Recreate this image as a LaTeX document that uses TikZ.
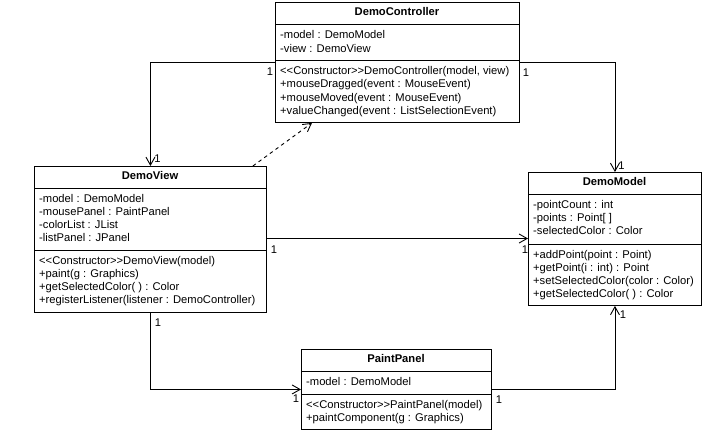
\documentclass[tikz,border=0pt]{standalone}
\usepackage{fontspec}
\setmainfont{Liberation Sans}
\usetikzlibrary{arrows.meta,calc}
\tikzset{
  cls/.style={draw=black, line width=0.9pt, rectangle, inner sep=0pt, anchor=north west},
  sep/.style={draw=black, line width=0.9pt},
  ttl/.style={font=\fontsize{11.2}{13}\selectfont\bfseries, inner sep=0pt, text height=8pt, text depth=2.5pt},
  txt/.style={font=\fontsize{11.2}{13}\selectfont, inner sep=0pt, anchor=west, text height=8pt, text depth=2.5pt},
  mult/.style={font=\fontsize{11.2}{13}\selectfont, inner sep=0pt},
  assoc/.style={draw=black, line width=0.9pt, -{Straight Barb[length=8pt,width=9pt,line width=0.9pt]}},
  dep/.style={assoc, dash pattern=on 3.5pt off 3.5pt}
}
\begin{document}
\begin{tikzpicture}[x=1pt,y=-1pt]
\useasboundingbox (0,0) rectangle (717,434);
% DemoController
\node[cls, minimum width=244pt, minimum height=120pt] (ctrl) at (275,2) {};
\draw[sep] (275,24) -- (519,24);
\draw[sep] (275,60) -- (519,60);
\node[ttl] (ctrlT) at (397,13) {DemoController};
\node[txt] (ctrlA1) at (280,36) {-model : DemoModel};
\node[txt] (ctrlA2) at (280,49.3) {-view : DemoView};
\node[txt] (ctrlM1) at (280,72) {<{}<Constructor>{}>DemoController(model, view)};
\node[txt] (ctrlM2) at (280,85.2) {+mouseDragged(event : MouseEvent)};
\node[txt] (ctrlM3) at (280,98.4) {+mouseMoved(event : MouseEvent)};
\node[txt] (ctrlM4) at (280,111.6) {+valueChanged(event : ListSelectionEvent)};
% DemoView
\node[cls, minimum width=232pt, minimum height=146pt] (view) at (34,166) {};
\draw[sep] (34,188) -- (266,188);
\draw[sep] (34,250) -- (266,250);
\node[ttl] (viewT) at (150,177) {DemoView};
\node[txt] (viewA1) at (39,200) {-model : DemoModel};
\node[txt] (viewA2) at (39,213) {-mousePanel : PaintPanel};
\node[txt] (viewA3) at (39,226) {-colorList : JList};
\node[txt] (viewA4) at (39,239) {-listPanel : JPanel};
\node[txt] (viewM1) at (39,262) {<{}<Constructor>{}>DemoView(model)};
\node[txt] (viewM2) at (39,275) {+paint(g : Graphics)};
\node[txt] (viewM3) at (39,288) {+getSelectedColor( ) : Color};
\node[txt] (viewM4) at (39,301) {+registerListener(listener : DemoController)};
% DemoModel
\node[cls, minimum width=173pt, minimum height=133pt] (model) at (528,172) {};
\draw[sep] (528,194) -- (701,194);
\draw[sep] (528,244) -- (701,244);
\node[ttl] (modelT) at (614.5,183) {DemoModel};
\node[txt] (modelA1) at (533,206) {-pointCount : int};
\node[txt] (modelA2) at (533,219) {-points : Point[ ]};
\node[txt] (modelA3) at (533,232) {-selectedColor : Color};
\node[txt] (modelM1) at (533,256) {+addPoint(point : Point)};
\node[txt] (modelM2) at (533,269) {+getPoint(i : int) : Point};
\node[txt] (modelM3) at (533,282) {+setSelectedColor(color : Color)};
\node[txt] (modelM4) at (533,295) {+getSelectedColor( ) : Color};
% PaintPanel
\node[cls, minimum width=190pt, minimum height=80pt] (paint) at (301,349) {};
\draw[sep] (301,371) -- (491,371);
\draw[sep] (301,394) -- (491,394);
\node[ttl] (paintT) at (396,360) {PaintPanel};
\node[txt] (paintA1) at (306,383) {-model : DemoModel};
\node[txt] (paintM1) at (306,405.5) {<{}<Constructor>{}>PaintPanel(model)};
\node[txt] (paintM2) at (306,418.5) {+paintComponent(g : Graphics)};
% connectors
\draw[assoc] (ctrl.west) -| (view.north);
\draw[assoc] (ctrl.east) -| (model.north);
\draw[dep] ($(view.north east)+(-14,0)$) -- ($(ctrl.south west)+(37,0)$);
\draw[assoc] (view.east |- 0,238.5) -- (model.west |- 0,238.5);
\draw[assoc] (view.south) |- (paint.west);
\draw[assoc] (paint.east) -| (model.south);
% multiplicities
\node[mult] (m1) at (270,72) {1};
\node[mult] (m2) at (157.5,159) {1};
\node[mult] (m3) at (526,73) {1};
\node[mult] (m4) at (621.5,166) {1};
\node[mult] (m5) at (274,250) {1};
\node[mult] (m6) at (525,250) {1};
\node[mult] (m7) at (158,323) {1};
\node[mult] (m8) at (296,399) {1};
\node[mult] (m9) at (499,400) {1};
\node[mult] (m10) at (623,315) {1};
\end{tikzpicture}
\end{document}
